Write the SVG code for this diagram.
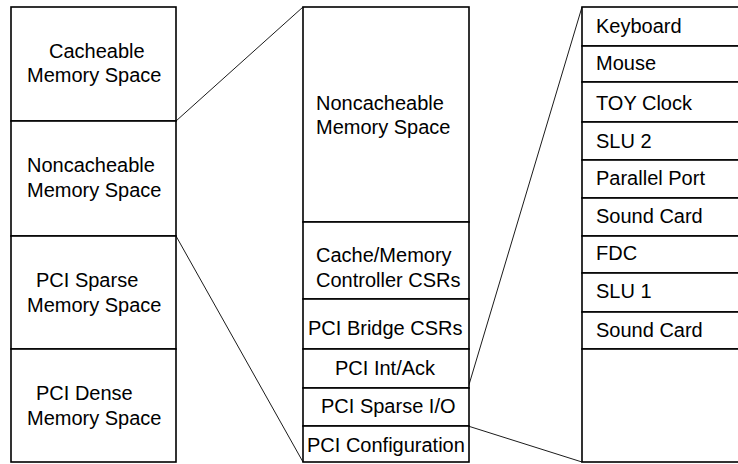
<svg xmlns="http://www.w3.org/2000/svg" width="738" height="464" viewBox="0 0 738 464">
<style>
.box{fill:#fff;stroke:#000;stroke-width:1.6}
.conn{stroke:#000;stroke-width:0.9;fill:none}
text{font-family:"Liberation Sans",Arial,sans-serif;font-size:20px;fill:#000}
</style>
<rect width="738" height="464" fill="#fff"/>
<g id="connectors">
<line class="conn" x1="176" y1="121" x2="303" y2="7"/>
<line class="conn" x1="176" y1="236" x2="303" y2="462"/>
<line class="conn" x1="468" y1="388" x2="582" y2="7"/>
<line class="conn" x1="468" y1="426" x2="582" y2="462"/>
</g>
<g id="left-column">
<g id="cacheable"><rect class="box" x="11" y="7" width="165" height="114"/><text x="49" y="58">Cacheable</text><text x="27" y="82">Memory Space</text></g>
<g id="noncacheable-left"><rect class="box" x="11" y="121" width="165" height="115"/><text x="27" y="172">Noncacheable</text><text x="27" y="197">Memory Space</text></g>
<g id="pci-sparse-mem"><rect class="box" x="11" y="236" width="165" height="113"/><text x="36" y="287">PCI Sparse</text><text x="27" y="312">Memory Space</text></g>
<g id="pci-dense-mem"><rect class="box" x="11" y="349" width="165" height="113"/><text x="36" y="400">PCI Dense</text><text x="27" y="425">Memory Space</text></g>
</g>
<g id="middle-column">
<g id="noncacheable-mid"><rect class="box" x="303" y="7" width="166" height="215"/><text x="316" y="110">Noncacheable</text><text x="316" y="134">Memory Space</text></g>
<g id="cache-mem-csrs"><rect class="box" x="303" y="222" width="166" height="77"/><text x="316" y="262">Cache/Memory</text><text x="316" y="287">Controller CSRs</text></g>
<g id="pci-bridge-csrs"><rect class="box" x="303" y="299" width="166" height="50"/><text x="308" y="335">PCI Bridge CSRs</text></g>
<g id="pci-int-ack"><rect class="box" x="303" y="349" width="166" height="39"/><text x="335" y="375">PCI Int/Ack</text></g>
<g id="pci-sparse-io"><rect class="box" x="303" y="388" width="166" height="38"/><text x="321" y="413">PCI Sparse I/O</text></g>
<g id="pci-config"><rect class="box" x="303" y="426" width="166" height="36"/><text x="307" y="452">PCI Configuration</text></g>
</g>
<g id="right-column">
<g id="keyboard"><rect class="box" x="582" y="7" width="170" height="39"/><text x="596" y="33">Keyboard</text></g>
<g id="mouse"><rect class="box" x="582" y="46" width="170" height="36"/><text x="596" y="70">Mouse</text></g>
<g id="toy-clock"><rect class="box" x="582" y="82" width="170" height="40"/><text x="596" y="110">TOY Clock</text></g>
<g id="slu2"><rect class="box" x="582" y="122" width="170" height="38"/><text x="596" y="148">SLU 2</text></g>
<g id="parallel-port"><rect class="box" x="582" y="160" width="170" height="38"/><text x="596" y="185">Parallel Port</text></g>
<g id="sound-card-1"><rect class="box" x="582" y="198" width="170" height="38"/><text x="596" y="223">Sound Card</text></g>
<g id="fdc"><rect class="box" x="582" y="236" width="170" height="37"/><text x="596" y="260">FDC</text></g>
<g id="slu1"><rect class="box" x="582" y="273" width="170" height="39"/><text x="596" y="298">SLU 1</text></g>
<g id="sound-card-2"><rect class="box" x="582" y="312" width="170" height="37"/><text x="596" y="337">Sound Card</text></g>
<g id="io-rest"><rect class="box" x="582" y="349" width="170" height="113"/></g>
</g>
</svg>
